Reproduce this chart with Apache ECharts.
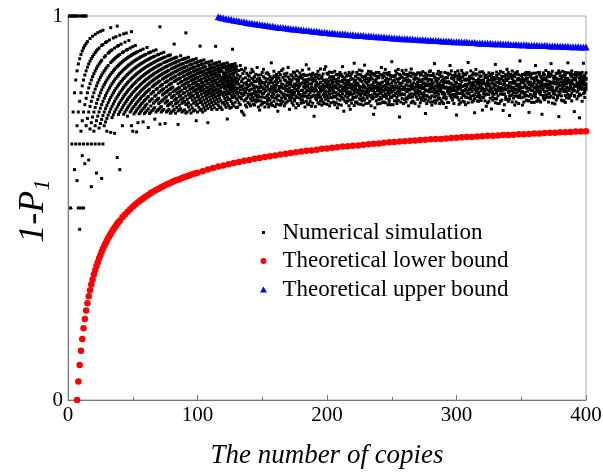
<!DOCTYPE html>
<html>
<head>
  <meta charset="utf-8">
  <title>1-P1 vs number of copies</title>
  <script src="https://cdn.jsdelivr.net/npm/echarts@6/dist/echarts.min.js"></script>
  <style>html,body{margin:0;padding:0;background:#fff;}</style>
</head>
<body>
  <div id="main" style="width:603px;height:475px;"></div>
  <script type="text/javascript">
    // failures k seen at each copy number n = 1..130 (plotted value is 1 - k/n)
    var fanK = [
      [0], [0,1], [0,1], [0,1], [0,1,2], [0,1,2], [0,1,2,3], [0,1,2,4], [1,2,3,5], [0,1,2,3,5],
      [0,1,2,3,4], [0,1,2,3,4,6], [0,1,2,3,5], [0,1,2,3,4], [1,2,3,4,5], [2,3,4,6], [1,2,3,4,5], [2,3,4,5,6,8], [1,2,3,4,5], [2,3,4,5,6],
      [1,2,3,4,5,6,7], [2,3,4,5,6,9], [1,2,3,4,5,6], [2,3,4,5,6,7,8], [1,3,4,5,6,7], [2,3,4,5,6,7,11], [1,2,4,5,6,7,9], [3,4,5,6,7,8], [2,3,4,5,6,7,8], [2,4,5,6,7,8,9],
      [3,4,5,6,7,8], [2,3,5,6,7,8], [1,3,4,5,6,7,8,10], [3,4,5,6,7,8,9], [2,4,5,6,7,8,9], [3,4,5,6,7,8,9,11], [2,4,5,6,7,8,9], [1,3,4,5,6,7,8,9,14], [3,4,5,6,7,8,9,10], [2,4,5,6,7,8,9,10,16],
      [3,5,6,7,8,9,10], [4,5,6,7,8,9,10,12], [2,4,5,6,7,8,9,10,11], [3,5,6,7,8,9,10,11], [2,4,5,6,7,8,9,10,11], [4,5,6,7,8,9,10,11,12], [3,5,6,7,8,9,10,11], [4,5,6,7,8,9,10,11,12], [2,5,6,7,8,9,10,11,12,14], [4,5,6,7,8,9,10,11,12,15],
      [5,6,7,8,9,10,11,12,13], [4,5,6,7,8,9,10,11,12,13], [5,6,7,8,9,10,11,12,13,16], [5,6,7,8,9,10,11,12,13,15], [6,7,8,9,10,11,12,13,14], [5,6,7,8,9,10,11,12,13,14], [6,7,8,9,10,11,12,13,14], [5,6,7,8,9,10,11,12,13,14,16], [6,7,8,9,10,11,12,13,14,15], [6,7,8,9,10,11,12,13,14,15],
      [5,7,8,9,10,11,12,13,14,15], [6,7,8,9,10,11,12,13,15,18], [6,7,8,9,10,11,12,14,16], [6,7,8,9,10,11,13,14,15,16], [7,8,9,10,11,12,13,14,16], [6,7,8,9,10,11,12,13,15,16], [7,8,9,10,11,12,14,15,16,18], [6,8,9,10,11,12,13,14,15,17], [7,8,9,10,11,12,13,15,17], [7,8,9,10,11,12,14,15,16,17],
      [2,8,9,10,11,12,13,14,16,17,20], [7,8,9,10,11,13,14,16,17,18], [8,10,11,12,13,14,15,16,18], [7,8,9,10,11,12,14,15,16,18], [8,9,10,11,12,13,15,16,17,21], [9,10,11,12,13,14,15,16,17,19], [8,9,10,11,12,13,15,17,18,19], [8,9,10,11,12,14,15,16,18,19], [8,9,10,12,13,14,15,16,18,20], [9,10,11,12,13,14,15,17,18,20],
      [9,10,11,12,13,15,16,17,19,20], [6,9,10,11,12,13,14,16,17,18,20], [9,10,11,12,13,14,16,18,19,21], [9,10,11,12,14,16,17,18,19,20], [10,11,12,13,14,15,16,17,19,21,24], [10,11,12,13,14,16,17,18,20,21], [9,11,12,13,14,15,17,18,19,21], [10,11,12,13,15,16,17,19,20,22], [10,11,12,13,14,16,18,19,20,22], [10,12,13,14,15,16,17,18,20,22],
      [4,10,11,12,13,15,16,17,19,21,23], [11,12,13,14,15,16,18,20,21,23], [10,11,13,14,15,16,17,19,21,22], [11,12,13,14,15,17,18,19,20,23], [11,12,13,14,15,16,18,19,20,22,24], [11,12,13,15,16,17,18,20,21,23], [11,13,14,15,16,17,18,19,20,22,24], [12,13,14,15,16,17,19,21,22,24], [11,12,14,15,16,17,18,19,20,22,23,27], [12,13,14,15,16,18,19,20,21,23,25],
      [12,13,14,15,17,18,19,21,22,24], [8,12,14,15,16,17,19,20,22,23,25], [12,13,15,17,18,19,20,21,23,25], [13,14,15,16,18,19,20,22,24,26], [12,14,15,16,17,19,20,21,23,25], [13,14,16,17,18,19,21,22,24,26], [13,15,16,17,18,20,21,22,23,25], [13,15,16,17,19,20,21,22,24,26,30], [13,14,15,16,18,19,21,22,23,25], [14,15,16,17,18,20,21,22,24,26],
      [13,15,16,17,19,20,21,23,25,27], [14,15,17,18,19,20,22,23,24,26], [14,15,16,17,19,21,22,23,25,27], [9,14,16,17,18,19,20,22,24,26], [14,15,16,18,20,21,22,23,25,28], [15,16,17,18,19,21,22,24,26,27], [14,16,17,18,20,21,23,24,25,28], [15,16,17,19,20,22,23,24,26,28], [15,16,17,19,20,21,22,24,27,29], [15,16,18,19,20,21,22,24,25,27],
      [15,16,18,19,20,22,23,24,26,28], [16,17,18,19,21,22,23,25,27,29], [15,17,19,20,21,22,24,25,26,28,33], [16,17,18,20,21,22,23,25,27,29], [16,17,19,20,22,23,24,25,27,30], [16,17,18,20,21,22,24,26,28,30], [11,16,17,19,21,22,23,24,25,27,29], [17,18,19,20,21,23,24,26,27,30], [16,17,18,19,21,22,24,25,27,29], [17,18,19,21,22,23,25,26,28,31]
    ];

    // simulated 1-P1 (x1000) for n = 131..400, six runs per n
    var bandStart = 131;
    var bandY = [
      [846,781,812,763,829,797], [801,858,774,822,790,836], [769,815,843,788,807,871], [829,752,798,817,861,784], [793,836,809,748,850,818],
      [857,804,779,825,796,742], [812,768,839,801,782,864], [786,827,809,851,763,821], [834,797,775,816,846,790], [771,843,819,795,832,806],
      [808,784,852,766,823,797], [825,861,791,810,779,838], [798,770,834,819,855,787], [842,813,781,805,768,829], [776,829,801,848,817,793],
      [815,789,866,782,803,836], [763,831,808,794,846,779], [837,802,824,755,789,814], [804,847,779,818,831,768], [789,814,853,797,772,827],
      [826,775,810,842,798,861], [811,838,787,763,821,803], [774,806,829,851,789,816], [852,793,816,780,836,771], [797,824,763,809,848,785],
      [833,781,804,827,769,842], [809,878,791,773,816,834], [767,812,838,799,826,788], [844,796,778,819,856,805], [786,829,811,842,764,817],
      [821,771,848,803,789,835], [806,843,794,827,781,752], [838,816,769,792,853,809], [779,803,831,815,768,847], [815,858,786,823,800,773],
      [794,777,822,840,812,862], [849,811,797,766,834,789], [773,832,818,785,806,844], [827,794,851,809,776,818], [802,866,779,828,841,793],
      [836,788,812,757,821,804], [781,824,799,847,792,829], [818,806,845,774,833,787], [795,839,768,816,802,854], [853,784,823,801,779,811],
      [809,761,836,819,845,792], [772,829,806,788,857,821], [841,797,814,832,767,803], [786,852,823,796,818,839], [824,773,791,845,806,781],
      [807,838,859,782,826,794], [791,816,775,834,800,848], [845,799,827,812,763,821], [778,834,803,791,873,815], [819,787,846,771,828,806],
      [836,812,769,823,795,862], [801,848,786,809,834,777], [765,823,815,843,790,808], [829,792,837,806,773,851], [812,739,803,831,847,794],
      [786,841,820,764,812,833], [848,806,793,827,782,819], [774,817,839,801,856,788], [823,795,771,846,814,836], [809,862,827,789,803,779],
      [838,783,816,808,768,842], [795,831,849,776,821,806], [861,814,790,833,799,772], [783,826,805,817,868,796], [817,770,834,851,792,823],
      [802,848,779,813,829,787], [839,796,821,766,806,854], [788,833,808,842,774,815], [824,811,787,799,853,830], [776,842,818,805,791,837],
      [813,789,856,828,769,801], [847,801,774,819,835,792], [796,827,812,784,848,761], [831,770,839,808,797,822], [805,853,793,816,781,845],
      [768,818,829,848,804,789], [842,786,810,797,832,868], [814,839,782,825,752,806], [791,805,851,778,819,834], [826,774,815,843,798,810],
      [779,846,803,788,832,821], [853,813,827,801,766,794], [802,781,844,819,835,757], [837,822,796,773,811,849], [789,808,836,854,783,816],
      [821,767,804,829,877,798], [810,843,788,815,775,833], [776,826,853,802,820,791], [848,799,771,838,807,824], [797,835,817,784,859,812],
      [832,784,806,847,793,770], [815,857,829,798,779,841], [768,812,842,821,804,787], [841,796,781,833,816,872], [803,828,813,772,845,796],
      [786,849,837,809,791,824], [829,773,804,856,818,800], [812,837,793,778,833,847], [855,806,820,842,766,789], [784,821,850,795,811,836],
      [818,788,744,827,849,805], [797,845,812,801,832,761], [836,779,828,853,790,817], [771,814,843,806,823,794], [825,853,797,782,814,839],
      [809,788,821,846,772,803], [847,826,784,812,799,866], [793,807,839,828,775,817], [817,851,776,804,843,790], [774,819,832,797,861,809],
      [838,792,815,851,786,824], [801,835,807,769,828,847], [822,776,853,813,796,782], [845,811,789,836,804,769], [788,843,826,801,818,881],
      [813,769,804,844,831,792], [832,817,841,779,793,809], [779,846,813,825,857,798], [851,802,788,817,772,836], [806,829,861,794,814,780],
      [737,811,837,848,801,824], [823,794,776,819,845,807], [840,858,809,785,826,797], [796,815,831,772,809,851], [815,782,848,837,796,812],
      [787,832,805,821,859,776], [848,809,784,803,828,841], [809,845,818,766,791,833], [831,788,829,852,807,796], [774,821,797,814,843,862],
      [822,851,811,789,778,818], [797,776,836,826,809,849], [843,814,795,772,835,805], [789,838,822,848,799,816], [816,801,852,807,783,827],
      [836,765,813,833,819,794], [803,829,787,846,774,852], [781,847,819,798,831,812], [855,811,796,824,788,835], [793,826,843,779,815,801],
      [819,784,808,851,836,746], [772,838,823,806,793,846], [846,804,779,831,818,790], [808,823,855,787,802,835], [786,857,811,817,845,776],
      [829,792,834,803,768,822], [815,845,776,825,812,850], [799,779,841,876,789,808], [838,818,805,792,831,773], [781,831,849,814,801,826],
      [822,805,787,837,856,796], [847,786,818,772,823,811], [803,853,829,806,781,842], [776,814,797,843,833,819], [834,826,772,801,818,787],
      [812,797,838,853,793,827], [788,840,815,784,829,762], [851,812,804,826,775,839], [806,775,829,847,812,798], [825,849,792,815,803,871],
      [794,824,857,787,838,811], [838,806,781,820,796,845], [772,833,813,839,817,789], [819,845,796,806,853,827], [843,790,826,742,804,815],
      [807,857,811,835,787,798], [781,817,843,822,770,849], [832,798,774,811,839,821], [816,841,829,787,805,858], [795,778,851,842,817,801],
      [848,819,806,793,776,834], [769,833,822,847,809,789], [822,800,788,816,852,836], [807,879,834,774,823,797], [837,786,799,829,810,843],
      [784,825,857,808,791,816], [818,812,776,838,846,803], [852,836,823,793,779,827], [795,748,809,849,818,785], [829,815,846,801,832,861],
      [806,849,790,779,824,812], [778,823,829,836,801,794], [844,794,812,854,787,818], [817,833,780,805,843,826], [789,807,855,824,812,755],
      [833,851,798,788,827,809], [805,779,823,844,794,840], [846,823,809,817,765,797], [774,838,842,796,819,829], [823,796,777,833,852,806],
      [811,845,815,803,786,823], [839,812,833,758,810,848], [797,789,851,826,803,781], [822,833,796,840,821,813], [785,874,819,808,774,836],
      [854,801,784,827,845,799], [809,827,838,792,816,772], [772,812,806,849,831,825], [836,778,824,813,797,856], [813,843,797,781,839,806],
      [796,821,853,832,807,754], [828,797,811,769,826,843], [847,836,790,818,783,808], [783,809,832,845,861,819], [819,853,778,801,813,837],
      [804,784,846,826,792,741], [841,827,812,793,848,818], [776,813,837,857,805,795], [825,845,801,786,831,813], [808,791,829,842,768,852],
      [849,818,776,809,823,799], [791,836,855,821,802,833], [815,772,806,837,847,788], [834,883,823,794,811,816], [801,803,844,829,787,845],
      [768,827,813,848,837,803], [826,789,798,815,776,829], [851,846,834,801,819,792], [793,812,781,838,853,814], [829,838,827,779,804,847],
      [812,779,853,821,791,749], [846,822,796,843,828,809], [786,849,817,806,775,838], [823,806,838,792,851,821], [801,834,775,827,813,795],
      [839,797,851,814,789,871], [778,821,809,842,834,804], [816,853,827,785,806,831], [853,808,799,829,848,779], [795,776,842,816,803,822],
      [828,834,818,744,839,812], [809,852,786,847,821,793], [834,818,838,803,782,847], [787,795,823,836,858,816], [821,841,805,789,814,831],
      [845,813,853,821,797,776], [799,788,829,842,823,809], [816,849,791,811,845,876], [773,825,814,856,806,827], [838,802,843,787,829,798],
      [805,836,823,796,771,843], [827,781,807,838,851,812], [851,823,792,815,787,834], [794,857,835,803,826,738], [818,809,819,844,801,852],
      [836,792,781,828,843,807], [779,843,856,811,819,825], [825,818,803,779,832,846], [847,775,839,853,808,793], [803,829,815,824,787,837],
      [830,852,796,837,878,813], [786,811,833,806,826,789], [817,846,824,793,812,851], [842,799,857,831,779,826], [808,823,812,848,834,805],
      [791,838,793,819,806,751], [834,817,845,836,853,818], [819,784,822,802,827,843], [848,852,807,826,791,814], [735,829,838,851,819,797],
      [826,811,794,816,845,832], [813,837,853,809,778,824], [839,798,821,843,831,877], [801,845,812,788,826,806], [823,816,835,852,809,838]
    ];

    // theoretical lower bound
    var lowerN = [7,8,9,10,11,12,13,14,15,16,17,18,19,20,21,22,23,24,25,26,27,28,29,30,31,32,33,34,35,36,37,38,39,40,
      42,44,46,48,50,52,54,56,58,60,62,64,66,68,70,72,74,76,78,80,82,84,86,88,90,92,94,96,98,100,
      104,108,112,116,120,124,128,132,136,140,144,148,152,156,160,164,168,172,176,180,184,188,192,196,200,
      204,208,212,216,220,224,228,232,236,240,244,248,252,256,260,264,268,272,276,280,284,288,292,296,300,
      304,308,312,316,320,324,328,332,336,340,344,348,352,356,360,364,368,372,376,380,384,388,392,396,400];
    var lowerY = [0.000,0.048,0.091,0.128,0.159,0.187,0.211,0.233,0.252,0.270,0.286,0.301,0.314,0.327,0.338,0.349,0.359,0.369,0.377,0.386,0.394,0.401,0.408,0.415,0.421,0.427,0.433,0.439,0.444,0.449,0.454,0.459,0.463,0.467,
      0.476,0.483,0.490,0.497,0.503,0.509,0.515,0.520,0.525,0.530,0.534,0.539,0.543,0.547,0.550,0.554,0.557,0.561,0.564,0.567,0.570,0.573,0.575,0.578,0.581,0.583,0.585,0.588,0.590,0.592,
      0.596,0.600,0.604,0.608,0.611,0.614,0.617,0.620,0.623,0.625,0.628,0.630,0.633,0.635,0.637,0.639,0.641,0.643,0.645,0.647,0.649,0.650,0.652,0.654,0.655,
      0.657,0.658,0.660,0.661,0.662,0.663,0.665,0.666,0.667,0.668,0.670,0.671,0.672,0.673,0.674,0.675,0.676,0.677,0.678,0.679,0.680,0.680,0.681,0.682,0.683,
      0.684,0.685,0.685,0.686,0.687,0.688,0.688,0.689,0.690,0.690,0.691,0.692,0.692,0.693,0.694,0.694,0.695,0.696,0.696,0.697,0.697,0.698,0.699,0.699,0.700];

    // theoretical upper bound, [n, value] (only the part below 1 is visible)
    var upperPts = [
      [116,0.998],[118,0.996],[120,0.995],[122,0.993],[124,0.992],[126,0.991],[128,0.989],[130,0.988],[132,0.987],[134,0.986],
      [136,0.985],[138,0.983],[140,0.982],[142,0.981],[144,0.980],[146,0.979],[148,0.978],[150,0.977],[152,0.976],[154,0.975],
      [156,0.974],[158,0.973],[160,0.972],[162,0.971],[164,0.970],[166,0.970],[168,0.969],[170,0.968],[172,0.967],[174,0.966],
      [176,0.966],[178,0.965],[180,0.964],[182,0.963],[184,0.962],[186,0.962],[188,0.961],[190,0.960],[192,0.960],[194,0.959],
      [196,0.958],[198,0.958],[200,0.957],[202,0.956],[204,0.956],[206,0.955],[208,0.954],[210,0.954],[212,0.953],[214,0.953],
      [216,0.952],[218,0.951],[220,0.951],[222,0.950],[224,0.950],[226,0.949],[228,0.949],[230,0.948],[232,0.948],[234,0.947],
      [236,0.947],[238,0.946],[240,0.946],[242,0.945],[244,0.945],[246,0.944],[248,0.944],[250,0.943],[252,0.943],[254,0.942],
      [256,0.942],[258,0.941],[260,0.941],[262,0.941],[264,0.940],[266,0.940],[268,0.939],[270,0.939],[272,0.938],[274,0.938],
      [276,0.938],[278,0.937],[280,0.937],[282,0.936],[284,0.936],[286,0.936],[288,0.935],[290,0.935],[292,0.935],[294,0.934],
      [296,0.934],[298,0.933],[300,0.933],[302,0.933],[304,0.932],[306,0.932],[308,0.932],[310,0.931],[312,0.931],[314,0.931],
      [316,0.930],[318,0.930],[320,0.930],[322,0.929],[324,0.929],[326,0.929],[328,0.928],[330,0.928],[332,0.928],[334,0.928],
      [336,0.927],[338,0.927],[340,0.927],[342,0.926],[344,0.926],[346,0.926],[348,0.925],[350,0.925],[352,0.925],[354,0.925],
      [356,0.924],[358,0.924],[360,0.924],[362,0.924],[364,0.923],[366,0.923],[368,0.923],[370,0.923],[372,0.922],[374,0.922],
      [376,0.922],[378,0.922],[380,0.921],[382,0.921],[384,0.921],[386,0.921],[388,0.920],[390,0.920],[392,0.920],[394,0.920],
      [396,0.919],[398,0.919],[400,0.919]
    ];

    var serif = "'Liberation Serif', 'Times New Roman', serif";

    var simData = [];
    fanK.forEach(function (ks, i) {
      var n = i + 1;
      ks.forEach(function (k) { simData.push([n, 1 - k / n]); });
    });
    bandY.forEach(function (ys, i) {
      var n = bandStart + i;
      ys.forEach(function (y) { simData.push([n, y / 1000]); });
    });
    var lowerData = lowerN.map(function (n, i) { return [n, lowerY[i]]; });

    var myChart = echarts.init(document.getElementById('main'));
    var option = {
      animation: false,
      backgroundColor: '#fff',
      grid: {
        left: 68, right: 17, top: 16, bottom: 75,
        show: true, borderColor: '#aaa', borderWidth: 1,
        outerBoundsMode: 'none'
      },
      legend: {
        orient: 'vertical',
        left: 255, top: 216,
        itemWidth: 28, itemHeight: 6, itemGap: 5.5,
        symbolKeepAspect: true,
        textStyle: { fontFamily: serif, fontSize: 23, color: '#000', lineHeight: 23 },
        data: [
          { name: 'Numerical simulation', icon: 'path://M0,0M6,6M1.5,1.5L4.5,1.5L4.5,4.5L1.5,4.5Z' },
          { name: 'Theoretical lower bound', icon: 'circle' },
          { name: 'Theoretical upper bound', icon: 'path://M3,0L6,5.2L0,5.2Z' }
        ]
      },
      xAxis: {
        type: 'value',
        min: 0, max: 400, interval: 100,
        name: 'The number of copies',
        nameLocation: 'middle',
        nameGap: 42,
        nameMoveOverlap: false,
        nameTextStyle: { fontFamily: serif, fontSize: 27, fontStyle: 'italic', color: '#000' },
        axisLine: { lineStyle: { color: '#777', width: 1 } },
        axisTick: { inside: true, length: 5, lineStyle: { color: '#777' } },
        minorTick: { show: true, splitNumber: 2, length: 3, lineStyle: { color: '#777' } },
        splitLine: { show: false },
        axisLabel: { fontFamily: serif, fontSize: 21, color: '#000', margin: 5 }
      },
      yAxis: {
        type: 'value',
        min: 0, max: 1, interval: 0.5,
        name: '{m|1-P}{s|1}',
        nameLocation: 'middle',
        nameRotate: 90,
        nameGap: 14,
        nameMoveOverlap: false,
        nameTextStyle: {
          rich: {
            m: { fontFamily: serif, fontSize: 36, fontStyle: 'italic', color: '#000', lineHeight: 40, verticalAlign: 'middle' },
            s: { fontFamily: serif, fontSize: 23, fontStyle: 'italic', color: '#000', lineHeight: 22, verticalAlign: 'bottom', padding: [0, 6, 0, 0] }
          }
        },
        axisLine: { lineStyle: { color: '#777', width: 1 } },
        axisTick: { inside: true, length: 5, lineStyle: { color: '#777' } },
        splitLine: { show: false },
        axisLabel: {
          fontFamily: serif, fontSize: 21, color: '#000', margin: 5,
          formatter: function (v) { return v === 0 || v === 1 ? String(v) : ''; }
        }
      },
      series: [
        {
          name: 'Numerical simulation',
          type: 'scatter',
          symbol: 'rect',
          symbolSize: 3,
          itemStyle: { color: '#000', opacity: 1 },
          data: simData
        },
        {
          name: 'Theoretical lower bound',
          type: 'scatter',
          symbol: 'circle',
          symbolSize: 6.5,
          itemStyle: { color: '#ff0000', opacity: 1 },
          data: lowerData
        },
        {
          name: 'Theoretical upper bound',
          type: 'scatter',
          symbol: 'triangle',
          symbolSize: 7,
          itemStyle: { color: '#0000ff', opacity: 1 },
          data: upperPts
        }
      ]
    };
    myChart.setOption(option);
  </script>
</body>
</html>
